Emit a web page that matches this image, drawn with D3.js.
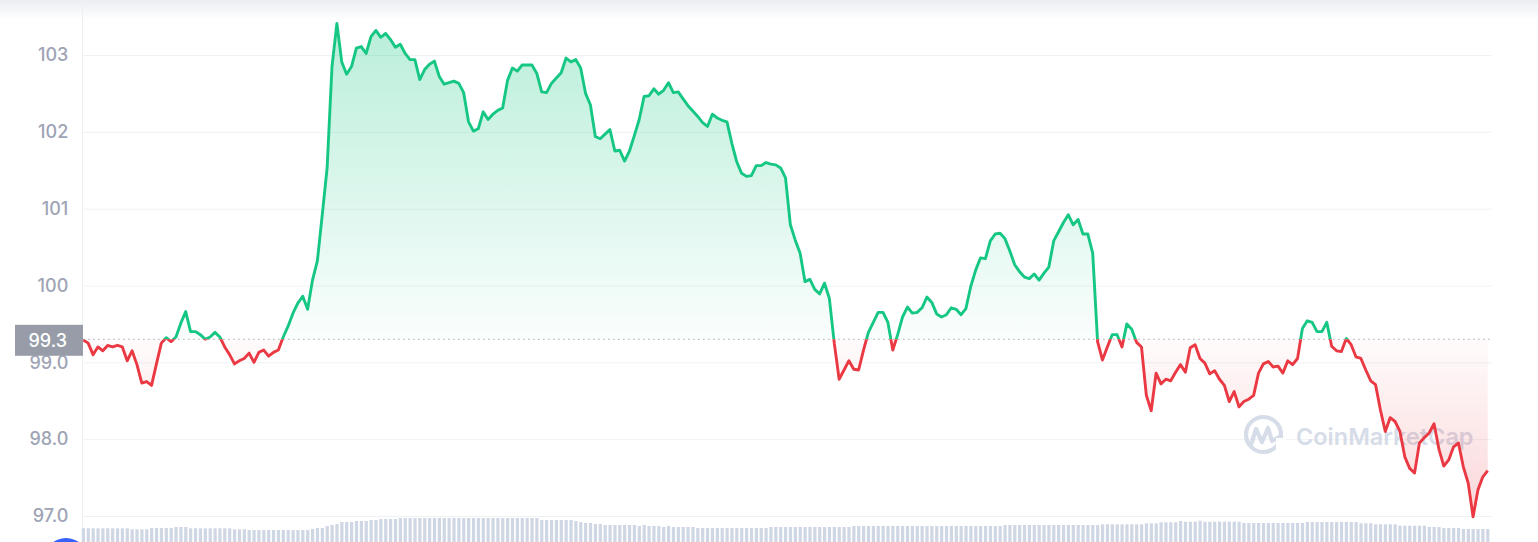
<!DOCTYPE html>
<html><head><meta charset="utf-8">
<script src="https://cdn.jsdelivr.net/npm/d3@7/dist/d3.min.js"></script>
<style>html,body{margin:0;padding:0;background:#fff;overflow:hidden}svg{display:block}</style>
</head><body><svg id="c" width="1538" height="542"></svg>
<script>
// ---- data ----
const prices = [
99.29,99.25,99.10,99.20,99.15,99.22,99.20,99.22,99.20,99.02,
99.15,98.97,98.73,98.75,98.70,98.98,99.25,99.32,99.27,99.33,
99.51,99.66,99.40,99.40,99.36,99.30,99.33,99.39,99.33,99.20,
99.10,98.98,99.02,99.05,99.12,99.00,99.13,99.16,99.08,99.13,
99.16,99.33,99.47,99.64,99.77,99.86,99.69,100.07,100.32,100.92,
101.53,102.85,103.41,102.91,102.75,102.85,103.09,103.11,103.02,103.24,
103.32,103.23,103.28,103.20,103.10,103.14,103.02,102.94,102.94,102.68,
102.81,102.88,102.92,102.72,102.62,102.64,102.66,102.63,102.51,102.13,
102.01,102.04,102.26,102.16,102.23,102.28,102.31,102.67,102.83,102.79,
102.87,102.87,102.87,102.76,102.52,102.51,102.63,102.70,102.77,102.96,
102.91,102.94,102.83,102.50,102.35,101.94,101.91,101.97,102.03,101.75,
101.76,101.62,101.75,101.95,102.16,102.46,102.47,102.56,102.49,102.54,
102.64,102.51,102.52,102.43,102.34,102.27,102.20,102.12,102.07,102.23,
102.18,102.15,102.13,101.85,101.61,101.46,101.42,101.43,101.56,101.56,
101.60,101.58,101.57,101.53,101.40,100.79,100.59,100.42,100.05,100.08,
99.95,99.89,100.03,99.83,99.25,98.78,98.90,99.02,98.91,98.90,
99.16,99.39,99.52,99.65,99.65,99.52,99.16,99.36,99.59,99.72,
99.64,99.65,99.71,99.85,99.78,99.63,99.59,99.62,99.71,99.69,
99.62,99.70,99.99,100.20,100.36,100.35,100.58,100.67,100.68,100.61,
100.45,100.27,100.18,100.11,100.09,100.15,100.07,100.16,100.24,100.58,
100.70,100.82,100.92,100.79,100.86,100.67,100.67,100.42,99.27,99.03,
99.20,99.36,99.36,99.20,99.50,99.43,99.26,99.20,98.57,98.37,
98.86,98.72,98.78,98.76,98.87,98.97,98.87,99.19,99.23,99.05,
98.99,98.85,98.89,98.78,98.70,98.49,98.62,98.42,98.49,98.52,
98.57,98.86,98.98,99.01,98.94,98.95,98.86,99.02,98.97,99.05,
99.44,99.54,99.52,99.40,99.40,99.52,99.21,99.15,99.14,99.31,
99.23,99.07,99.05,98.90,98.76,98.71,98.38,98.10,98.28,98.23,
98.10,97.77,97.62,97.56,97.95,98.02,98.08,98.20,97.87,97.65,
97.73,97.90,97.95,97.64,97.43,96.99,97.34,97.51,97.59
];
const volumes = [
31.7,31.7,31.7,31.7,31.7,31.7,31.7,31.7,31.7,31.7,
30.7,30.7,30.7,30.7,32,32,32,32,32,33,
33,33,31.7,31.7,31.7,31.7,31.7,31.7,31.7,31.7,
31.7,30.7,30.7,30.7,30,30,30,30,30,30,
30,30,30,30,30,30,30,31,32,32,
34,35,36,38,38,38,39,39,39,40,
40,41,41,41,41,42,42,42,42,42,
42,42,42,42,42,42,42,42,42,42,
42,42,42,42,42,42,42,42,42,42,
42,42,42,42,40,40,40,40,40,40,
40,39,38,37,37,36,36,35,35,35,
35,35,35,35,34,35,34,34,34,33,
34,33,33,33,33,33,32,32,32,32,
32,32,32,32,32,32,32,32,32,32,
32,33,33,33,33,33,33,33,33,33,
33,33,33,33,33,33,33,33,34,34,
34,34,34,34,34,34,34,34,34,34,
34,34,34,34,34,34,34,34,34,34,
34,34,34,34,34,34,34,34,34,35,
35,35,35,35,35,35,35,35,35,35,
35,35,35,35,35,35,35,35,35,35.7,
35.7,35.7,35.7,35.7,35.7,35.7,35.7,35.7,36.7,36.7,
36.7,37.7,37.7,37.7,37.7,39,38.3,38.3,38.3,39.3,
38.3,38.3,38.3,38.3,38.3,38.3,38.3,38.3,37,37,
37,37,37,37,37,37,37,37,37,37,
37,38,38,38,38,38,38,38,38,38,
38,38,36.7,36.7,36.7,35.7,35.7,35.7,35.7,35.7,
34.3,34.3,34.3,34.3,34.3,34.3,33,33,33,32,
32,32,32,31,31,31,31,31,31
];
const yTicks = [97, 98, 99, 100, 101, 102, 103];
const yTickLabels = ["97.0", "98.0", "99.0", "100", "101", "102", "103"];
const baseline = 99.3;
const baselineLabel = "99.3";
const watermarkText = "CoinMarketCap";

// ---- layout ----
const W = 1538, H = 542;
const plotL = 83.3, plotR = 1487.7, gridR = 1491;
const GREEN = "#16c784", RED = "#ea3943";

const svg = d3.select("#c");
const defs = svg.append("defs");

const x = d3.scaleLinear().domain([0, prices.length - 1]).range([plotL, plotR]);
const y = d3.scaleLinear().domain([97, 103]).range([516, 55]);
const yv = d3.scaleLinear().domain([0, 42]).range([560, 518]);
const yb = y(baseline);

// top shade
const tg = defs.append("linearGradient").attr("id", "topShade").attr("x1", 0).attr("y1", 0).attr("x2", 0).attr("y2", 1);
tg.append("stop").attr("offset", 0).attr("stop-color", "#eceef2");
tg.append("stop").attr("offset", 1).attr("stop-color", "#ffffff");
svg.append("rect").attr("x", 0).attr("y", 0).attr("width", W).attr("height", 20).attr("fill", "url(#topShade)");

// left axis line
svg.append("line").attr("x1", 82.5).attr("x2", 82.5).attr("y1", 0).attr("y2", H)
  .attr("stroke", "#eceff3").attr("stroke-width", 1);

// gridlines
const grid = svg.append("g").attr("transform", `translate(${plotL},0)`)
  .call(d3.axisRight(y).tickValues(yTicks).tickSize(gridR - plotL).tickFormat(""));
grid.select(".domain").remove();
grid.selectAll("line").attr("stroke", "#eff2f5").attr("stroke-width", 1);

// y labels
const ax = svg.append("g").attr("transform", `translate(${plotL},0)`)
  .call(d3.axisLeft(y).tickValues(yTicks).tickSize(0).tickPadding(15)
    .tickFormat((d, i) => yTickLabels[i]));
ax.select(".domain").remove();
ax.selectAll("text").attr("fill", "#9ea4b5").style("font-family", "Inter, 'Open Sans', sans-serif")
  .style("font-size", "18px").style("font-weight", "500");

// volume bars
svg.append("g").selectAll("rect").data(volumes).join("rect")
  .attr("x", (d, i) => x(i) - 1.5).attr("width", 3.2)
  .attr("y", d => yv(d)).attr("height", d => yv(0) - yv(d))
  .attr("fill", "#cfd6e4");

// watermark
const wm = svg.append("g").attr("opacity", 0.85);
wm.append("circle").attr("cx", 1263.5).attr("cy", 434.5).attr("r", 17.5)
  .attr("fill", "none").attr("stroke", "#cfd6e4").attr("stroke-width", 4.2);
wm.append("path").attr("d", "M1251,445 L1256,429 L1262,442 L1268,428 L1272,441 L1281,436")
  .attr("fill", "none").attr("stroke", "#cfd6e4").attr("stroke-width", 4.2)
  .attr("stroke-linejoin", "round").attr("stroke-linecap", "round");
wm.append("rect").attr("x", 1276).attr("y", 438).attr("width", 10).attr("height", 12).attr("fill", "#fff");
wm.append("text").attr("x", 1296).attr("y", 445).text(watermarkText)
  .attr("fill", "#cfd6e4").style("font-family", "Inter, sans-serif").style("font-size", "23.5px").style("font-weight", "600");

// clips
defs.append("clipPath").attr("id", "above").append("rect").attr("x", 0).attr("y", 0).attr("width", W).attr("height", yb);
defs.append("clipPath").attr("id", "below").append("rect").attr("x", 0).attr("y", yb).attr("width", W).attr("height", H - yb);

// area gradients
const gg = defs.append("linearGradient").attr("id", "gArea").attr("gradientUnits", "userSpaceOnUse")
  .attr("x1", 0).attr("x2", 0).attr("y1", y(d3.max(prices))).attr("y2", yb);
gg.append("stop").attr("offset", 0).attr("stop-color", GREEN).attr("stop-opacity", 0.3);
gg.append("stop").attr("offset", 1).attr("stop-color", GREEN).attr("stop-opacity", 0.02);
const rg = defs.append("linearGradient").attr("id", "rArea").attr("gradientUnits", "userSpaceOnUse")
  .attr("x1", 0).attr("x2", 0).attr("y1", yb).attr("y2", y(97));
rg.append("stop").attr("offset", 0).attr("stop-color", RED).attr("stop-opacity", 0.02);
rg.append("stop").attr("offset", 1).attr("stop-color", RED).attr("stop-opacity", 0.2);

const area = d3.area().x((d, i) => x(i)).y0(yb).y1(d => y(d));
svg.append("path").datum(prices).attr("d", area).attr("fill", "url(#gArea)").attr("clip-path", "url(#above)");
svg.append("path").datum(prices).attr("d", area).attr("fill", "url(#rArea)").attr("clip-path", "url(#below)");

// baseline dotted
svg.append("line").attr("x1", plotL).attr("x2", gridR).attr("y1", yb).attr("y2", yb)
  .attr("stroke", "#8f959f").attr("stroke-width", 1).attr("stroke-dasharray", "1.2,3.8");

// lines
const line = d3.line().x((d, i) => x(i)).y(d => y(d));
svg.append("path").datum(prices).attr("d", line).attr("fill", "none").attr("stroke", GREEN)
  .attr("stroke-width", 2.9).attr("stroke-linejoin", "round").attr("clip-path", "url(#above)");
svg.append("path").datum(prices).attr("d", line).attr("fill", "none").attr("stroke", RED)
  .attr("stroke-width", 2.9).attr("stroke-linejoin", "round").attr("clip-path", "url(#below)");

// baseline label box
svg.append("rect").attr("x", 15).attr("y", yb - 14.5).attr("width", 68).attr("height", 31).attr("fill", "#979ca8");
svg.append("text").attr("x", 67).attr("y", yb + 1).attr("dy", "0.35em").attr("text-anchor", "end")
  .text(baselineLabel).attr("fill", "#fff").style("font-family", "Inter, sans-serif")
  .style("font-size", "18px").style("font-weight", "500");

// blue sliver bottom-left
svg.append("circle").attr("cx", 66).attr("cy", 560).attr("r", 22).attr("fill", "#3861fb");
</script></body></html>
